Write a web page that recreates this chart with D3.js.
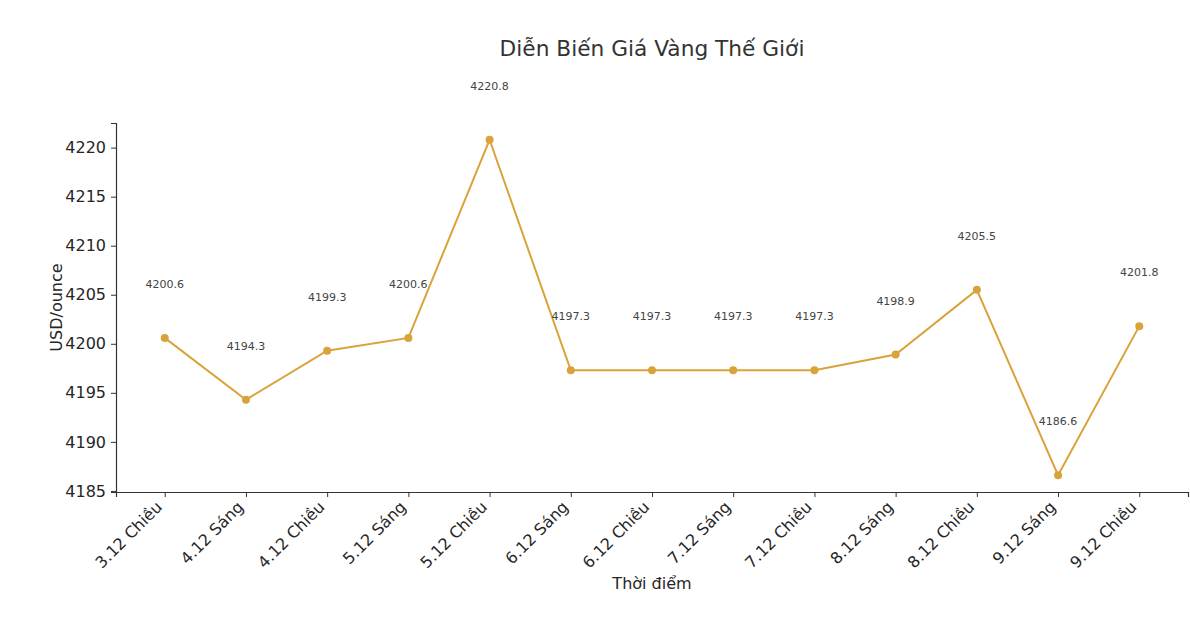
<!DOCTYPE html>
<html>
<head>
<meta charset="utf-8">
<script src="https://cdn.jsdelivr.net/npm/d3@7"></script>
<style>
  body { margin: 0; background: #fff; }
  text { font-family: "DejaVu Sans", sans-serif; fill: #262626; }
</style>
</head>
<body>
<div id="chart"></div>
<script>
// dữ liệu
const categories = ["3.12 Chiều", "4.12 Sáng", "4.12 Chiều", "5.12 Sáng", "5.12 Chiều", "6.12 Sáng",
  "6.12 Chiều", "7.12 Sáng", "7.12 Chiều", "8.12 Sáng", "8.12 Chiều", "9.12 Sáng", "9.12 Chiều"];
const prices = [4200.6, 4194.3, 4199.3, 4200.6, 4220.8, 4197.3, 4197.3, 4197.3, 4197.3, 4198.9, 4205.5, 4186.6, 4201.8];
const yTicks = [4185, 4190, 4195, 4200, 4205, 4210, 4215, 4220];

const width = 1190, height = 636;
const margin = {left: 116, right: 2, top: 123, bottom: 144};
const lineColor = "#daa33a";

const svg = d3.select("#chart").append("svg")
  .attr("width", width)
  .attr("height", height);

// giống matplotlib: lề 5% hai bên
const x = d3.scaleLinear()
  .domain([-0.6, categories.length - 1 + 0.6])
  .range([margin.left, width - margin.right]);

const yMin = d3.min(prices), yMax = d3.max(prices);
const pad = (yMax - yMin) * 0.05;
const y = d3.scaleLinear()
  .domain([yMin - pad, yMax + pad])
  .range([height - margin.bottom, margin.top]);

// trục y
const yAxis = svg.append("g")
  .attr("transform", `translate(${margin.left},0)`)
  .call(d3.axisLeft(y).tickValues(yTicks).tickSize(5).tickPadding(5).tickFormat(d3.format("d")));
yAxis.select(".domain").attr("stroke", "#333").attr("stroke-width", 1.2);
yAxis.selectAll(".tick line").attr("stroke", "#333");
yAxis.selectAll(".tick text").attr("font-size", 16).style("font-family", "DejaVu Sans").attr("fill", "#262626");

// trục x
const xAxis = svg.append("g")
  .attr("transform", `translate(0,${height - margin.bottom})`)
  .call(d3.axisBottom(x).tickValues(d3.range(categories.length)).tickSize(5).tickFormat(i => categories[i]));
xAxis.select(".domain").attr("stroke", "#333").attr("stroke-width", 1.2);
xAxis.selectAll(".tick line").attr("stroke", "#333");
xAxis.selectAll(".tick text")
  .attr("font-size", 16)
  .style("font-family", "DejaVu Sans")
  .attr("fill", "#262626")
  .attr("text-anchor", "end")
  .attr("x", 0).attr("y", 0).attr("dy", 0)
  .attr("transform", "translate(-2,16) rotate(-45)");

// đường giá
svg.append("path")
  .datum(prices)
  .attr("fill", "none")
  .attr("stroke", lineColor)
  .attr("stroke-width", 2)
  .attr("d", d3.line().x((d, i) => x(i)).y(d => y(d)));

svg.append("g").selectAll("circle")
  .data(prices)
  .join("circle")
  .attr("cx", (d, i) => x(i))
  .attr("cy", d => y(d))
  .attr("r", 4)
  .attr("fill", lineColor);

// nhãn giá
svg.append("g").selectAll("text")
  .data(prices)
  .join("text")
  .attr("x", (d, i) => x(i))
  .attr("y", d => y(d) - 50)
  .attr("text-anchor", "middle")
  .attr("font-size", 11)
  .style("fill", "#444")
  .text(d => d.toFixed(1));

// tiêu đề và nhãn trục
svg.append("text")
  .attr("x", (margin.left + width - margin.right) / 2)
  .attr("y", 56)
  .attr("text-anchor", "middle")
  .attr("font-size", 21.7)
  .style("fill", "#333")
  .text("Diễn Biến Giá Vàng Thế Giới");

svg.append("text")
  .attr("x", (margin.left + width - margin.right) / 2)
  .attr("y", 589)
  .attr("text-anchor", "middle")
  .attr("font-size", 16)
  .text("Thời điểm");

svg.append("text")
  .attr("transform", `translate(62,${(margin.top + height - margin.bottom) / 2}) rotate(-90)`)
  .attr("text-anchor", "middle")
  .attr("font-size", 16)
  .text("USD/ounce");
</script>
</body>
</html>
